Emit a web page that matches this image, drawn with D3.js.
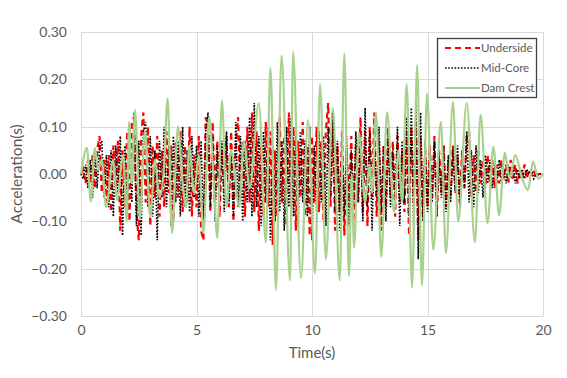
<!DOCTYPE html>
<html><head><meta charset="utf-8">
<script src="https://cdn.jsdelivr.net/npm/d3@7"></script>
<style>body{margin:0;background:#fff}svg{display:block}text{font-family:Lato,"Open Sans",sans-serif}</style>
</head><body><svg id="c" width="567" height="378"></svg>
<script>
const seriesNames = ["Underside","Mid-Core","Dam Crest"];
const xTicks = [0,5,10,15,20];
const yTicks = [-0.3,-0.2,-0.1,0,0.1,0.2,0.3];
const dt = 0.1;
const underside = [0,0.01,-0.02,0.03,-0.02,0.04,-0.03,0.05,0.08,-0.04,
0.03,-0.06,0.04,-0.08,0.06,-0.03,0.07,-0.12,0.05,-0.07,
0.09,-0.10,0.11,0.12,-0.08,-0.14,0.08,0.13,-0.06,0.10,
-0.11,0.06,-0.05,0.08,-0.09,0.05,-0.07,0.09,-0.04,0.06,
-0.10,0.07,-0.05,0.09,-0.08,0.06,-0.06,0.10,-0.09,0.04,
-0.07,0.08,-0.12,-0.14,0.12,0.10,-0.08,0.11,-0.06,0.07,
-0.09,0.05,-0.04,0.08,-0.07,0.09,-0.10,0.06,0.12,-0.05,
0.07,-0.09,0.10,-0.06,0.13,-0.08,0.09,-0.12,0.06,-0.09,
0.11,-0.07,0.09,-0.15,0.05,-0.09,0.12,-0.06,0.08,-0.11,
0.13,-0.07,0.10,-0.12,0.07,-0.05,0.11,-0.09,0.06,-0.13,
0.08,-0.06,0.10,-0.08,0.07,-0.10,0.09,0.15,-0.07,0.11,
-0.12,0.06,-0.08,0.09,-0.13,0.05,-0.07,0.08,-0.10,0.06,
-0.06,0.12,-0.08,0.09,-0.11,0.10,-0.05,0.13,-0.09,0.07,
-0.12,0.06,-0.07,0.10,-0.05,0.07,-0.09,0.08,-0.06,0.05,
-0.08,0.09,-0.13,0.10,-0.06,0.11,-0.14,0.08,-0.09,0.05,
-0.07,0.06,-0.05,0.08,-0.09,0.05,-0.04,0.06,-0.07,0.03,
-0.05,0.06,-0.03,0.04,-0.06,0.05,-0.03,0.08,0.09,-0.05,
0.04,-0.04,0.05,-0.02,0.03,-0.03,0.04,-0.02,0.03,-0.03,
0.02,-0.02,0.03,-0.01,0.02,-0.02,0.03,-0.01,0.02,-0.02,
0.01,-0.01,0.02,-0.01,0.01,0.00,0.01,-0.01,0.00,0.00,0.00];
const midCore = [0,-0.01,0.02,-0.03,0.03,-0.05,0.05,-0.03,0.06,0.07,
-0.05,0.04,-0.07,0.05,-0.09,0.06,-0.04,0.08,-0.13,0.06,
-0.08,0.10,-0.06,0.13,-0.11,0.07,-0.13,0.09,0.11,-0.07,
0.08,-0.09,0.05,-0.14,0.07,-0.05,0.10,-0.07,0.06,-0.11,
0.08,-0.06,0.07,-0.09,0.10,-0.07,0.05,-0.08,0.08,-0.05,
0.06,-0.09,0.07,-0.11,0.09,0.13,-0.07,0.08,-0.10,0.06,
-0.05,0.07,-0.08,0.09,-0.06,0.05,-0.09,0.11,-0.07,0.08,
-0.10,0.07,-0.06,0.12,-0.09,0.15,-0.07,0.08,-0.11,0.09,
-0.06,0.10,-0.14,0.06,-0.10,0.11,-0.08,0.07,-0.12,0.10,
-0.07,0.12,-0.09,0.08,-0.11,0.09,-0.06,0.07,-0.09,0.10,
-0.14,0.06,-0.08,0.09,-0.06,0.08,-0.11,0.10,-0.05,0.13,
-0.08,0.07,-0.12,0.06,-0.09,0.08,-0.11,0.05,-0.07,0.09,
-0.06,0.08,-0.10,0.14,-0.07,0.09,-0.12,0.07,-0.05,0.10,
-0.08,0.06,-0.10,0.08,-0.07,0.05,-0.06,0.10,-0.11,0.07,
-0.06,0.12,-0.09,0.14,-0.11,0.15,-0.18,0.13,-0.10,0.07,
-0.08,0.05,-0.06,0.07,-0.09,0.04,-0.05,0.06,-0.08,0.04,
-0.06,0.05,-0.04,0.06,-0.07,0.04,-0.03,0.09,-0.06,0.05,
-0.07,0.06,-0.04,0.03,-0.05,0.04,-0.02,0.03,-0.03,0.02,
-0.02,0.03,-0.02,0.01,-0.02,0.02,-0.01,0.02,-0.02,0.01,
-0.01,0.01,-0.01,0.01,0.00,0.01,-0.01,0.00,0.00,0.00,0.00];
const crestTimes = [0,0.26,0.42,0.6,0.74,0.9,1.08,1.4,1.55,1.83,1.98,2.08,2.2,2.34,2.55,2.77,3.0,3.2,3.4,3.6,3.75,3.94,4.2,4.4,4.55,4.68,4.9,5.1,5.3,5.55,5.75,5.9,6.1,6.3,6.5,6.85,7.05,7.3,7.7,8.0,8.2,8.44,8.68,9.05,9.18,9.52,9.83,10.13,10.35,10.6,10.9,11.2,11.4,11.6,11.72,11.82,12.03,12.3,12.5,12.6,12.77,13.0,13.25,13.55,13.75,13.9,14.1,14.33,14.55,14.76,14.98,15.25,15.58,15.8,16.1,16.33,16.7,17.05,17.3,17.6,17.85,18.1,18.35,18.55,18.8,19.1,19.35,19.57,19.8,20.0];
const crestValues = [0,0.055,-0.058,0.055,0.01,0.03,-0.07,0.03,-0.055,0.04,-0.10,0.11,-0.02,0.135,-0.095,0.093,-0.09,0.03,-0.05,0.02,0.16,-0.125,0.10,-0.02,-0.07,0.06,-0.04,0.04,-0.125,0.12,-0.02,-0.135,0.155,-0.07,0.05,-0.07,0.07,-0.03,0.15,-0.145,0.225,-0.245,0.25,-0.225,0.258,-0.22,0.114,-0.21,0.19,-0.18,0.14,-0.225,0.255,-0.215,0.0,-0.155,0.087,-0.06,0.02,-0.04,0.13,-0.175,0.13,-0.08,0.05,-0.06,0.19,-0.24,0.23,-0.235,0.17,-0.16,0.11,-0.167,0.152,-0.10,0.15,-0.144,0.125,-0.104,0.058,-0.087,0.045,-0.01,0.04,-0.01,-0.034,0.026,-0.01,0.0];

const W=567,H=378, L=81, R=543, T=32, B=316;
const svg = d3.select("#c");
const x = d3.scaleLinear().domain([0,20]).range([L,R]);
const y = d3.scaleLinear().domain([-0.3,0.3]).range([B,T]);
const grid="#d9d9d9", txt="#595959";

// gridlines
svg.append("g").attr("transform",`translate(0,${B})`)
  .call(d3.axisBottom(x).tickValues(xTicks).tickSize(-(B-T)).tickFormat(""))
  .call(g=>{g.select(".domain").remove();g.selectAll("line").attr("stroke",grid).attr("shape-rendering","crispEdges");});
svg.append("g").attr("transform",`translate(${L},0)`)
  .call(d3.axisLeft(y).tickValues(yTicks).tickSize(-(R-L)).tickFormat(""))
  .call(g=>{g.select(".domain").remove();g.selectAll("line").attr("stroke",grid).attr("shape-rendering","crispEdges");});

// tick labels
svg.append("g").attr("transform",`translate(${L},0)`)
  .call(d3.axisLeft(y).tickValues(yTicks).tickSize(0).tickPadding(14).tickFormat(d3.format(".2f")))
  .call(g=>{g.select(".domain").remove();g.selectAll("text").attr("fill",txt).style("font-size","14px");});
svg.append("g").attr("transform",`translate(0,${B})`)
  .call(d3.axisBottom(x).tickValues(xTicks).tickSize(0).tickPadding(9).tickFormat(d3.format("d")))
  .call(g=>{g.select(".domain").remove();g.selectAll("text").attr("fill",txt).style("font-size","14px");});

svg.append("text").attr("x",(L+R)/2).attr("y",358).attr("text-anchor","middle")
  .attr("fill",txt).style("font-size","15px").text("Time(s)");
svg.append("text").attr("transform",`translate(22,${(T+B)/2}) rotate(-90)`).attr("text-anchor","middle")
  .attr("fill",txt).style("font-size","15.5px").text("Acceleration(s)");

const toPts = arr => arr.map((v,i)=>[i*dt,v]);
const line = d3.line().x(d=>x(d[0])).y(d=>y(d[1]));
const lineSmooth = d3.line().x(d=>x(d[0])).y(d=>y(d[1])).curve(d3.curveMonotoneX);

const styles = [
  {stroke:"#ff0000", w:2.2, dash:"6,4"},
  {stroke:"#000000", w:1.6, dash:"1.6,1.6"},
  {stroke:"#a9d18e", w:2.2, dash:null}
];
const plot = svg.append("g");
plot.append("path").datum(toPts(underside)).attr("d",line).attr("fill","none")
  .attr("stroke",styles[0].stroke).attr("stroke-width",styles[0].w).attr("stroke-dasharray",styles[0].dash);
plot.append("path").datum(toPts(midCore)).attr("d",line).attr("fill","none")
  .attr("stroke",styles[1].stroke).attr("stroke-width",styles[1].w).attr("stroke-dasharray",styles[1].dash);
plot.append("path").datum(crestTimes.map((t,i)=>[t,crestValues[i]])).attr("d",lineSmooth).attr("fill","none")
  .attr("stroke",styles[2].stroke).attr("stroke-width",styles[2].w).attr("stroke-linejoin","round");

// legend
const lg = svg.append("g");
lg.append("rect").attr("x",437.5).attr("y",38.5).attr("width",99).attr("height",59)
  .attr("fill","#fff").attr("stroke","#404040").attr("stroke-width",1.3);
seriesNames.forEach((n,i)=>{
  const yy = 48 + i*20;
  lg.append("line").attr("x1",445).attr("x2",480).attr("y1",yy).attr("y2",yy)
    .attr("stroke",styles[i].stroke).attr("stroke-width",styles[i].w).attr("stroke-dasharray",styles[i].dash);
  lg.append("text").attr("x",481).attr("y",yy+4).attr("fill",txt).style("font-size","11.5px").text(n);
});
</script></body></html>
